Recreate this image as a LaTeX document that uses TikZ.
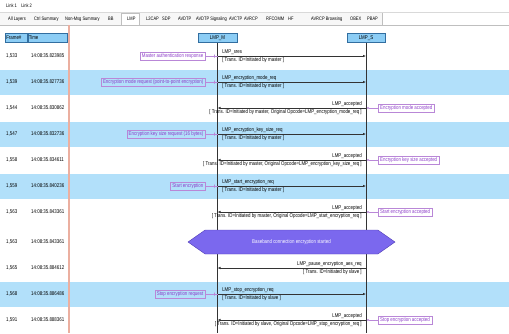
\documentclass[tikz,border=0pt]{standalone}
\usepackage{fontspec}
\setmainfont{Liberation Sans}[FakeStretch=0.8]
\usetikzlibrary{shapes,positioning,arrows.meta}
\definecolor{rowblue}{RGB}{178,224,250}
\definecolor{hdrblue}{RGB}{140,205,245}
\definecolor{hdrline}{RGB}{50,110,160}
\definecolor{notetext}{RGB}{140,60,200}
\definecolor{noteline}{RGB}{185,135,215}
\definecolor{syncfill}{RGB}{123,104,238}
\definecolor{syncline}{RGB}{80,60,180}
\definecolor{timeline}{RGB}{235,175,160}

\begin{document}
\begin{tikzpicture}[x=1pt,y=-1pt,
    every node/.style={font=\fontsize{5.5}{6}\selectfont, inner sep=1pt},
    cell/.style={anchor=west},
    tab/.style={anchor=west, font=\fontsize{5}{6}\selectfont},
    hdr/.style={draw=hdrline, fill=hdrblue, minimum height=9pt, line width=0.5pt},
    life/.style={draw=black!80, line width=0.6pt},
    msg/.style={draw=black!80, line width=0.6pt, -{Latex[length=3pt,width=2.5pt]}},
    note/.style={draw=noteline, text=notetext, inner xsep=2pt, minimum height=8pt},
    notelink/.style={draw=noteline, line width=0.5pt},
    tick/.style={draw=noteline, minimum width=0pt, minimum height=3pt, inner sep=0pt},
    sync/.style={shape=signal, signal to=east and west, signal pointer angle=70,
      fill=syncfill, draw=syncline, text=white, minimum width=207pt, minimum height=24pt}]
\useasboundingbox (0,0) rectangle (509,333);
\coordinate (bottom) at (0,333);

% tab bars
\node[tab] (link1) at (5,6) {Link 1};
\node[tab, right=2pt of link1] (link2) {Link 2};
\fill[black!3] (0,13) rectangle (382,25);
\draw[black!15] (0,12) -- (509,12);
\draw[black!25] (0,25) -- (509,25);
\draw[black!25] (382,13) -- (382,25);
\filldraw[fill=white, draw=black!25] (121,25) -- (121,13) -- (139,13) -- (139,25);
\foreach \x/\t [count=\i] in {7/All Layers, 33/Ctrl Summary, 64/Non-Msg Summary, 107/BB,
    126/LMP, 145/L2CAP, 161/SDP, 177/AVDTP, 195/AVDTP Signaling, 228/AVCTP, 243/AVRCP,
    265/RFCOMM, 287/HF, 310/AVRCP Browsing, 349/OBEX, 366/PBAP}
  \node[tab] (tab\i) at (\x,19) {\t};

% row bands
\foreach \y in {82,134,186,294}
  \fill[rowblue] (0,\y-12.5) rectangle (509,\y+12.5);
\draw[timeline, line width=1.5pt] (69,25) -- (69,333);

% header
\node[hdr, anchor=west, text width=20pt, align=left] (frame) at (5,37.5) {Frame\#};
\node[hdr, right=0pt of frame, text width=37pt, align=left] (time) {Time};
\node[hdr, minimum width=39pt] (lmpm) at (217.5,38) {LMP\_M};
\node[hdr, minimum width=38pt] (lmps) at (366,38) {LMP\_S};
\draw[life] (lmpm.south) -- (lmpm |- bottom);
\draw[life] (lmps.south) -- (lmps |- bottom);

% frames
\foreach \n/\f/\t/\y in {1/1{,}533/14:08:35.823985/56, 2/1{,}539/14:08:35.827736/82,
    3/1{,}544/14:08:35.830862/108, 4/1{,}547/14:08:35.832736/134, 5/1{,}558/14:08:35.834611/160,
    6/1{,}559/14:08:35.840236/186, 7/1{,}563/14:08:35.843361/212, 8/1{,}563/14:08:35.843361/242,
    9/1{,}565/14:08:35.884612/268, 10/1{,}568/14:08:35.886486/294, 11/1{,}591/14:08:35.888361/320}
{
  \node[cell] (f\n) at (5,\y) {\f};
  \node[cell] (t\n) at (30,\y) {\t};
}

% master -> slave
\foreach \n/\msg/\tid/\txt in {1/LMP\_sres/master/Master authentication response,
    2/LMP\_encryption\_mode\_req/master/Encryption mode request (point-to-point encryption),
    4/LMP\_encryption\_key\_size\_req/master/Encryption key size request (16 bytes),
    6/LMP\_start\_encryption\_req/master/Start encryption,
    10/LMP\_stop\_encryption\_req/slave/Stop encryption request}
{
  \draw[msg] (lmpm |- f\n) -- (lmps |- f\n)
    node[pos=0, above right, xshift=3.5pt] {\msg}
    node[pos=0, below right, xshift=3.5pt] {[ Trans. ID=Initiated by \tid\ ]};
  \node[note, anchor=east, xshift=-12pt] (n\n) at (lmpm |- f\n) {\txt};
  \draw[notelink] (n\n) -- (lmpm |- f\n) node[pos=.7, tick] {};
}

% slave -> master
\foreach \n/\tid/\op/\txt in {3/master/LMP\_encryption\_mode\_req/Encryption mode accepted,
    5/master/LMP\_encryption\_key\_size\_req/Encryption key size accepted,
    7/master/LMP\_start\_encryption\_req/Start encryption accepted,
    11/slave/LMP\_stop\_encryption\_req/Stop encryption accepted}
{
  \draw[msg] (lmps |- f\n) -- (lmpm |- f\n)
    node[pos=0, above left, xshift=-3pt] {LMP\_accepted}
    node[pos=0, below left, xshift=-3pt] {[ Trans. ID=Initiated by \tid, Original Opcode=\op\ ]};
  \node[note, anchor=west, xshift=12pt] (n\n) at (lmps |- f\n) {\txt};
  \draw[notelink, {Circle[open,length=2pt]}-, shorten <=1pt] (lmps |- f\n) -- (n\n);
}
\draw[msg] (lmps |- f9) -- (lmpm |- f9)
  node[pos=0, above left, xshift=-3pt] {LMP\_pause\_encryption\_aes\_req}
  node[pos=0, below left, xshift=-3pt] {[ Trans. ID=Initiated by slave ]};

\node[sync] (enc) at (291.5,242) {Baseband connection encryption started};
\end{tikzpicture}
\end{document}
